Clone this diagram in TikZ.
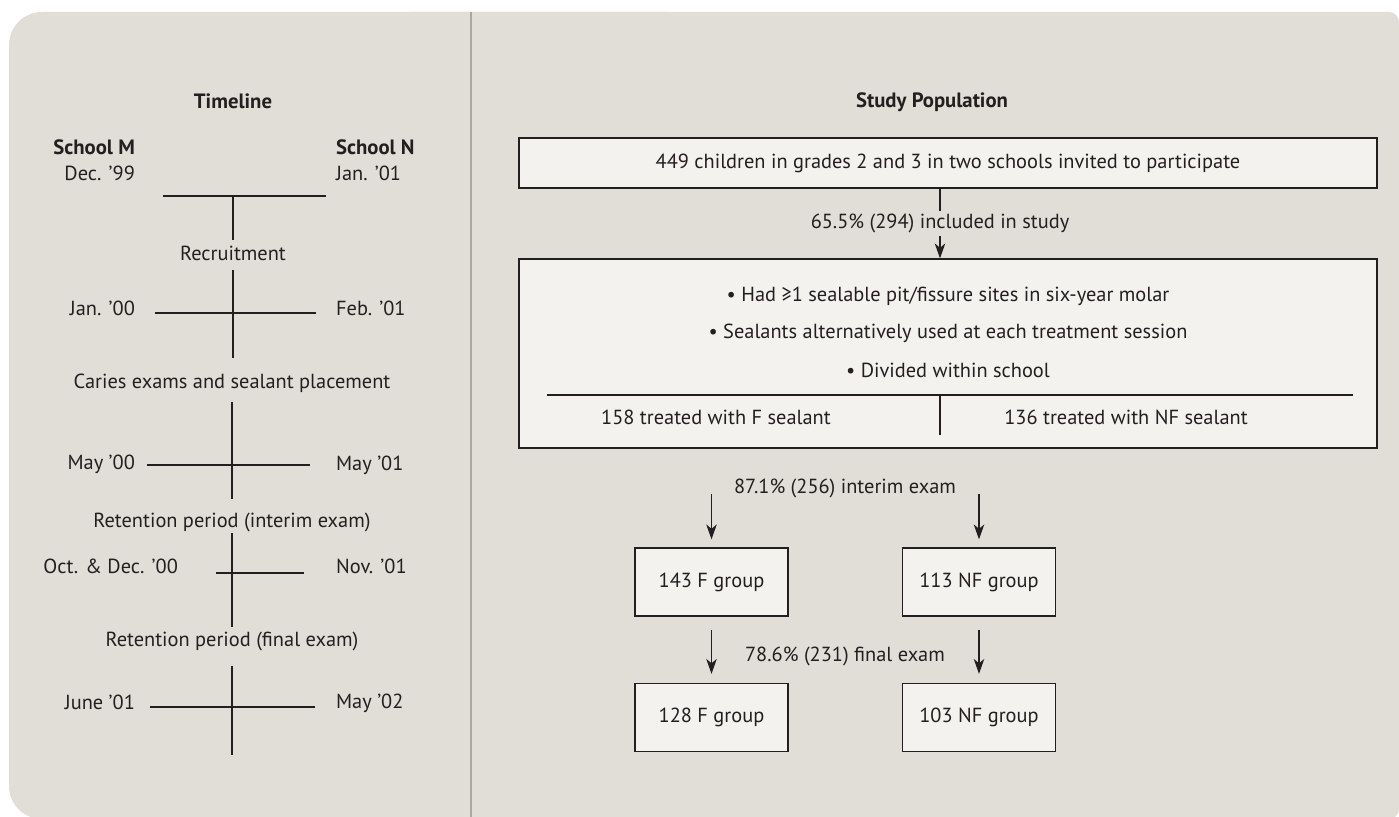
\documentclass[tikz,border=0pt]{standalone}
\usepackage{fontspec}
\setmainfont{PT Sans}
\usetikzlibrary{arrows.meta,calc}
\definecolor{panel}{HTML}{E0DED6}
\definecolor{boxfill}{HTML}{F3F2EE}
\definecolor{ink}{HTML}{231F20}
\definecolor{rulegray}{HTML}{A9A899}
\begin{document}
\begin{tikzpicture}[x=0.02cm,y=-0.02cm,
    every node/.style={text=ink,font=\fontsize{11.6}{14}\selectfont,inner sep=1pt},
    head/.style={font=\fontsize{11.8}{14}\selectfont\bfseries},
    box/.style={draw=ink,fill=boxfill,line width=0.75pt,minimum width=3.06cm,minimum height=1.36cm},
    arr/.style={draw=ink,line width=0.6pt,-{Stealth[length=8.5pt,width=6pt,inset=2.5pt]}},
    tl/.style={draw=ink,line width=0.6pt}]
    \useasboundingbox (0,0) rectangle (1399,817);
    \fill[white] (0,0) rectangle (1399,817);
    \fill[panel,rounded corners=0.66cm] (9,12) rectangle (700,819);
    \fill[panel,rounded corners=0.2cm] (400,12) rectangle (1399,819);
    \draw[rulegray,line width=1.1pt] (471,12) -- (471,817);

    % timeline
    \node[head] (tline) at (233,101) {Timeline};
    \node[head,anchor=east] (schm) at (137,147) {School M};
    \node[anchor=east] (dec99) at (137,173) {Dec. ’99};
    \node[head,anchor=west] (schn) at (334,147) {School N};
    \node[anchor=west] (jan01) at (334,173) {Jan. ’01};
    \draw[tl] (163,196) -- (326,196) (233,196) -- (233,240);
    \node (recr) at (233,253) {Recruitment};
    \node[anchor=east] (jan00) at (137,308) {Jan. ’00};
    \node[anchor=west] (feb01) at (334,308) {Feb. ’01};
    \draw[tl] (155,313) -- (316,313) (233,270) -- (233,358);
    \node (caries) at (232,383) {Caries exams and sealant placement};
    \node[anchor=east] (may00) at (137,464) {May ’00};
    \node[anchor=west] (may01) at (334,465) {May ’01};
    \draw[tl] (147,465) -- (310,465) (232,402) -- (232,499);
    \node (ret1) at (232,522) {Retention period (interim exam)};
    \node[anchor=east] (oct00) at (180,566) {Oct. \& Dec. ’00};
    \node[anchor=west] (nov01) at (334,566) {Nov. ’01};
    \draw[tl] (216,573) -- (304,573) (232,533) -- (232,627);
    \node (ret2) at (232,641) {Retention period (final exam)};
    \node[anchor=east] (jun01) at (137,702) {June ’01};
    \node[anchor=west] (may02) at (334,703) {May ’02};
    \draw[tl] (150,707) -- (315,707) (232,666) -- (232,755);

    % study population
    \node[head] (spop) at (932,102) {Study Population};
    \node[box,minimum width=17.16cm,minimum height=1cm] (invite) at (948,163) {449 children in grades 2 and 3 in two schools invited to participate};
    \node[box,minimum width=17.16cm,minimum height=3.78cm] (crit) at (948,353.5) {};
    \node (had) at (948,296) {• Had ≥1 sealable pit/fissure sites in six-year molar};
    \node (alt) at (948,333) {• Sealants alternatively used at each treatment session};
    \node (divd) at (948,370) {• Divided within school};
    \draw[tl] (547,395) -- (1353,395) (940,395) -- (940,435);
    \node (trf) at (716,417) {158 treated with F sealant};
    \node (trnf) at (1126,417) {136 treated with NF sealant};
    \coordinate (mid) at (940,0);
    \draw[arr] (invite.south -| mid) -- (crit.north -| mid)
        node[midway,fill=panel,inner sep=1.5pt] (incl) {65.5\% (294) included in study};

    \node[box] (f1) at (711.5,582) {143 F group};
    \node[box] (nf1) at (979,582) {113 NF group};
    \node[box] (f2) at (711.5,717.5) {128 F group};
    \node[box] (nf2) at (979,717.5) {103 NF group};
    \node (interim) at (845,488) {87.1\% (256) interim exam};
    \node (final) at (845,656) {78.6\% (231) final exam};
    \draw[arr] ($(f1.north)+(0,-53)$) -- ($(f1.north)+(0,-8)$);
    \draw[arr] ($(nf1.north)+(0,-53)$) -- ($(nf1.north)+(0,-8)$);
    \draw[arr] ($(f1.south)+(0,13)$) -- ($(f2.north)+(0,-9)$);
    \draw[arr] ($(nf1.south)+(0,13)$) -- ($(nf2.north)+(0,-9)$);
\end{tikzpicture}
\end{document}
